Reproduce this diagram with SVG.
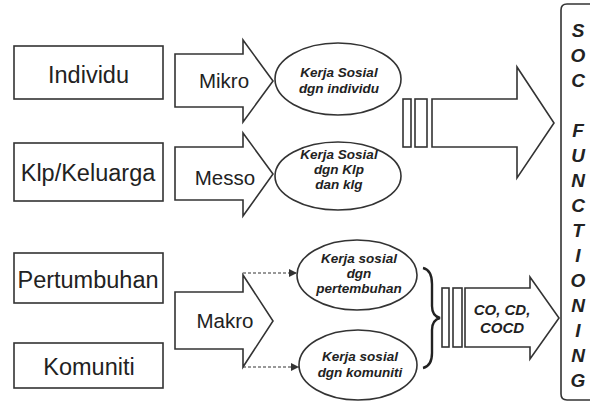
<svg xmlns="http://www.w3.org/2000/svg" width="590" height="403" viewBox="0 0 590 403">
<defs>
<style>
.s{fill:#fff;stroke:#333;stroke-width:1.6;stroke-linejoin:miter}
.t{font-family:"Liberation Sans",Arial,sans-serif;fill:#222;text-anchor:middle}
.b{font-size:23.5px}
.m{font-size:20.5px}
.e{font-size:13.5px;font-weight:bold;font-style:italic}
.c{font-size:15px;font-weight:bold;font-style:italic}
.v{font-size:19px;font-weight:bold;font-style:italic}
.d{fill:none;stroke:#333;stroke-width:1.2;stroke-dasharray:3 2}
</style>
<marker id="ah" viewBox="0 0 10 10" refX="10" refY="5" markerWidth="8" markerHeight="8" markerUnits="userSpaceOnUse" orient="auto">
<path d="M0,0 L10,5 L0,10 z" fill="#333"/>
</marker>
</defs>
<rect width="590" height="403" fill="#fff"/>

<g id="individu"><rect class="s" x="14" y="46" width="149" height="53"/><text class="t b" x="88.5" y="83">Individu</text></g>
<g id="klp"><rect class="s" x="14" y="143" width="149" height="58"/><text class="t b" x="88" y="181">Klp/Keluarga</text></g>
<g id="pertumbuhan"><rect class="s" x="14" y="253" width="149" height="50"/><text class="t b" x="88" y="288">Pertumbuhan</text></g>
<g id="komuniti"><rect class="s" x="14" y="343" width="149" height="45"/><text class="t b" x="89" y="375">Komuniti</text></g>

<g id="mikro"><polygon class="s" points="175,54 243,54 243,40 273,81 243,122 243,107 175,107"/><text class="t m" x="224" y="88">Mikro</text></g>
<g id="messo"><polygon class="s" points="175,147 243,147 243,133 273,174 243,216 243,200 175,200"/><text class="t m" x="225" y="185">Messo</text></g>
<g id="makro"><polygon class="s" points="175,292 243,292 243,275 273,321 243,367 243,349 175,349"/><text class="t m" x="225" y="328">Makro</text></g>

<g id="ks-individu"><ellipse class="s" cx="338" cy="79" rx="63" ry="36"/><text class="t e" x="339" y="77">Kerja Sosial</text><text class="t e" x="339" y="93">dgn individu</text></g>
<g id="ks-klp"><ellipse class="s" cx="338" cy="176" rx="63" ry="34"/><text class="t e" x="339" y="159">Kerja Sosial</text><text class="t e" x="339" y="174">dgn Klp</text><text class="t e" x="339" y="189">dan klg</text></g>
<g id="ks-pertembuhan"><ellipse class="s" cx="357" cy="275" rx="60" ry="35"/><text class="t e" x="359" y="263">Kerja sosial</text><text class="t e" x="359" y="278">dgn</text><text class="t e" x="359" y="293">pertembuhan</text></g>
<g id="ks-komuniti"><ellipse class="s" cx="358" cy="365" rx="59" ry="35"/><text class="t e" x="360" y="361">Kerja sosial</text><text class="t e" x="360" y="377">dgn komuniti</text></g>

<g id="upper-output">
<rect class="s" x="403" y="99" width="8" height="48"/>
<rect class="s" x="415" y="99" width="12" height="48"/>
<polygon class="s" points="432,99 517,99 517,67 554,123 517,178 517,147 432,147"/>
</g>

<g id="lower-output">
<path d="M423,268 Q432,270 432,284 L432,306 Q432,316 440,318 Q432,320 432,330 L432,353 Q432,366 423,368" fill="none" stroke="#222" stroke-width="2.4"/>
<rect class="s" x="442" y="288" width="7" height="59"/>
<rect class="s" x="453" y="288" width="9" height="59"/>
<polygon class="s" points="465,288 530,288 530,277 559,318 530,359 530,347 465,347"/>
<text class="t c" x="502" y="315">CO, CD,</text>
<text class="t c" x="502" y="333">COCD</text>
</g>

<g id="soc-functioning">
<path d="M590,4 L567,4 Q561,4 561,10 L561,394 Q561,400 567,400 L590,400" fill="none" stroke="#333" stroke-width="1.6"/>
<text class="t v" x="578" y="37">S</text>
<text class="t v" x="578" y="62">O</text>
<text class="t v" x="578" y="87">C</text>
<text class="t v" x="578" y="137">F</text>
<text class="t v" x="578" y="162">U</text>
<text class="t v" x="578" y="187">N</text>
<text class="t v" x="578" y="212">C</text>
<text class="t v" x="578" y="237">T</text>
<text class="t v" x="578" y="262">I</text>
<text class="t v" x="578" y="287">O</text>
<text class="t v" x="578" y="312">N</text>
<text class="t v" x="578" y="337">I</text>
<text class="t v" x="578" y="362">N</text>
<text class="t v" x="578" y="387">G</text>
</g>

<g id="connectors">
<line class="d" x1="243" y1="273" x2="297" y2="273" marker-end="url(#ah)"/>
<line class="d" x1="243" y1="367" x2="299" y2="367" marker-end="url(#ah)"/>
</g>
</svg>
